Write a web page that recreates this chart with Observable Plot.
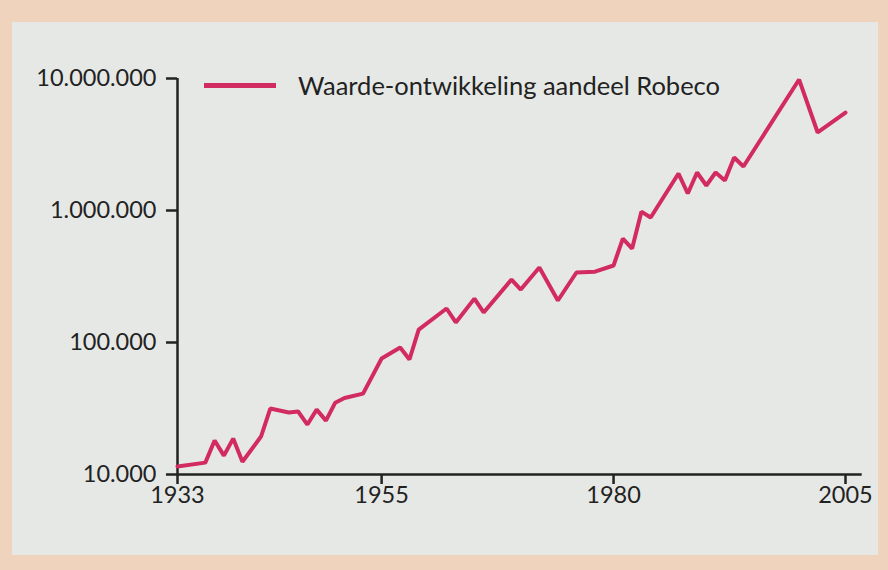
<!DOCTYPE html>
<html>
<head>
<meta charset="utf-8">
<script src="https://cdn.jsdelivr.net/npm/d3@7"></script>
<script src="https://cdn.jsdelivr.net/npm/@observablehq/plot@0.6"></script>
<style>
  html, body { margin: 0; padding: 0; }
  body { width: 888px; height: 570px; background: #efd3bd; position: relative; overflow: hidden; font-family: Lato, "Open Sans", sans-serif; }
  #panel { position: absolute; left: 12px; top: 22px; width: 866px; height: 533px; background: #e6e8e5; }
  #chart { position: absolute; left: 0; top: 0; }
  #legend { position: absolute; left: 204px; top: 70px; height: 30px; display: flex; align-items: center; color: #222; font-size: 25.5px; }
  #legend .sw { width: 72px; height: 5px; background: #d22b62; margin-right: 22px; }
</style>
</head>
<body>
<div id="panel"></div>
<div id="chart"></div>
<div id="legend"><span class="sw"></span><span id="legendText"></span></div>
<script>
const seriesName = "Waarde-ontwikkeling aandeel Robeco";
const years = [1933,1936,1937,1938,1939,1940,1942,1943,1945,1946,1947,1948,1949,1950,1951,1953,1955,1957,1958,1959,1962,1963,1965,1966,1969,1970,1972,1974,1976,1978,1980,1981,1982,1983,1984,1987,1988,1989,1990,1991,1992,1993,1994,2000,2002,2005];
const values = [11500,12300,18100,13900,18700,12500,19400,31600,29500,30000,23900,31000,25600,35000,38000,41000,75700,91700,74300,125000,181000,142000,215000,169000,300000,252000,370000,208000,339000,344000,383000,613000,515000,980000,885000,1905000,1345000,1940000,1546000,1940000,1690000,2520000,2155000,9820000,3900000,5520000];
const yTicks = [10000, 100000, 1000000, 10000000];
const xTicks = [1933, 1955, 1980, 2005];

const data = years.map((y, i) => ({year: y, value: values[i]}));
const fmt = d => d3.format(",")(d).replace(/,/g, ".");

document.getElementById("legendText").textContent = seriesName;

const chart = Plot.plot({
  width: 888,
  height: 570,
  marginLeft: 177,
  marginRight: 43,
  marginTop: 78,
  marginBottom: 96,
  style: {background: "transparent", fontFamily: "Lato, 'Open Sans', sans-serif", color: "#222"},
  x: {domain: [1933, 2005]},
  y: {type: "log", domain: [10000, 10000000]},
  marks: [
    Plot.axisY({ticks: yTicks, tickFormat: fmt, tickSize: 11, tickPadding: 10, fontSize: 23.5, label: null, strokeWidth: 2.5, stroke: "#222", fill: "#222"}),
    Plot.axisX({ticks: xTicks, tickFormat: d => String(d), tickSize: 10, tickPadding: 2, fontSize: 23.5, label: null, strokeWidth: 2.5, stroke: "#222", fill: "#222"}),
    Plot.ruleY([10000], {x1: 1933, x2: 2006.8, stroke: "#222", strokeWidth: 2.5}),
    Plot.ruleX([1933], {y1: 10000, y2: 10000000, stroke: "#222", strokeWidth: 2.5}),
    Plot.line(data, {x: "year", y: "value", stroke: "#d22b62", strokeWidth: 4, strokeLinejoin: "miter"})
  ]
});
document.getElementById("chart").appendChild(chart);
</script>
</body>
</html>
